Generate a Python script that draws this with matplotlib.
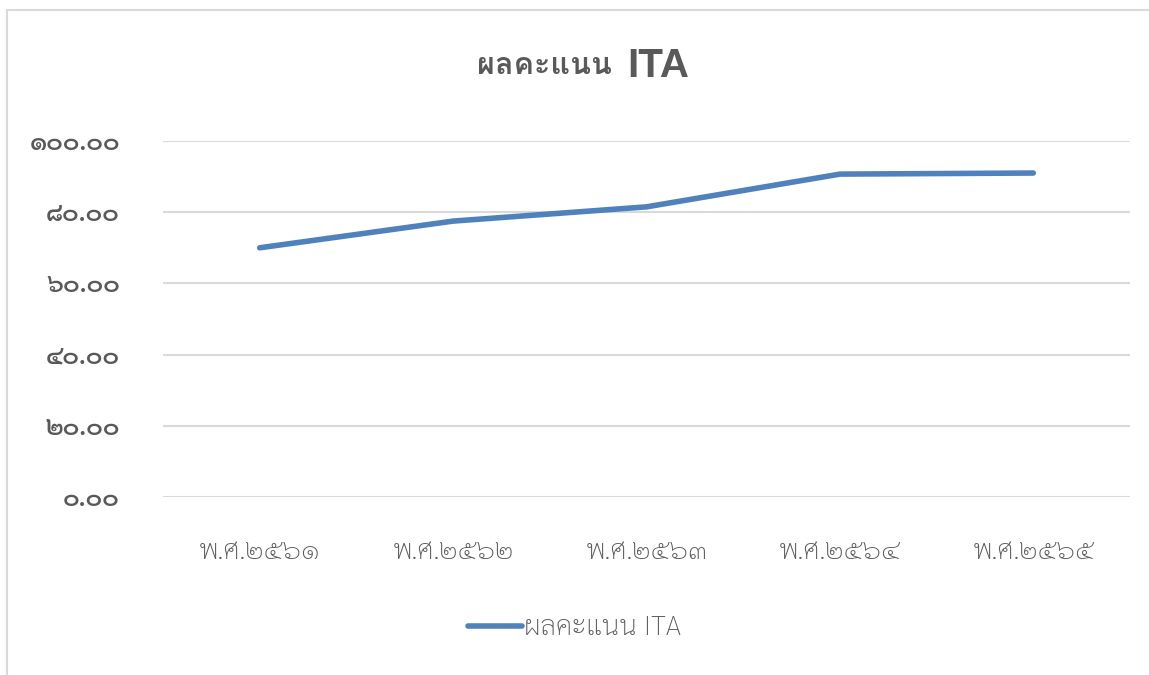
import matplotlib
matplotlib.use("Agg")
import matplotlib.pyplot as plt

# ---- data ----
categories = ["พ.ศ.๒๕๖๑", "พ.ศ.๒๕๖๒", "พ.ศ.๒๕๖๓", "พ.ศ.๒๕๖๔", "พ.ศ.๒๕๖๕"]
scores = [70.0, 77.5, 81.5, 90.7, 91.0]
ytick_values = [0, 20, 40, 60, 80, 100]
ytick_labels = ["๐.๐๐", "๒๐.๐๐", "๔๐.๐๐", "๖๐.๐๐", "๘๐.๐๐", "๑๐๐.๐๐"]
series_name = "ผลคะแนน ITA"
title_thai = "ผลคะแนน"
title_latin = "ITA"

plt.rcParams['font.family'] = ["Loma", "DejaVu Sans"]

TXT = "#595959"
fig = plt.figure(figsize=(11.49, 6.75), dpi=100)
ax = fig.add_axes([163/1149, 1-497/675, (1130-163)/1149, (497-141)/675])

x = list(range(len(categories)))
ax.plot(x, scores, color="#4F81BD", lw=4.0, solid_capstyle="round",
        solid_joinstyle="round", label=series_name, zorder=3)
ax.set_xlim(-0.5, len(categories) - 0.5)
ax.set_ylim(0, 100)
ax.set_yticks(ytick_values)
ax.set_yticklabels(ytick_labels, fontsize=18, color=TXT, fontweight="semibold",
                   family=["Sarabun", "DejaVu Sans"])
ax.set_xticks(x)
ax.set_xticklabels(categories, fontsize=20, color=TXT, fontweight="light",
                   family=["Sarabun", "DejaVu Sans"])
ax.tick_params(axis="x", length=0, pad=30)
ax.tick_params(axis="y", length=0, pad=31)
ax.grid(axis="y", color="#D9D9D9", lw=1.5)
ax.set_axisbelow(True)
for s in ax.spines.values():
    s.set_visible(False)

ty = 1 - 66/675
fig.text(612/1149, ty, title_thai, ha="right", va="center", fontsize=22,
         fontweight="bold", color=TXT, family=["Loma", "DejaVu Sans"])
fig.text(627/1149, ty, title_latin, ha="left", va="center", fontsize=29,
         fontweight="bold", color=TXT, family=["Liberation Sans", "DejaVu Sans"])

leg = fig.legend(loc="center", bbox_to_anchor=(0.5, 1-628/675), frameon=False,
                 prop={"family": ["Sarabun", "DejaVu Sans"], "size": 20, "weight": "light"},
                 handlelength=1.95, handletextpad=0.1)
for t in leg.get_texts():
    t.set_color(TXT)

# chart border
fig.add_artist(plt.Line2D([7/1149, 7/1149], [0, 1-10/675], color="#D9D9D9", lw=1.5))
fig.add_artist(plt.Line2D([7/1149, 1], [1-10/675, 1-10/675], color="#D9D9D9", lw=1.5))

fig.savefig("out.png", dpi=100)
